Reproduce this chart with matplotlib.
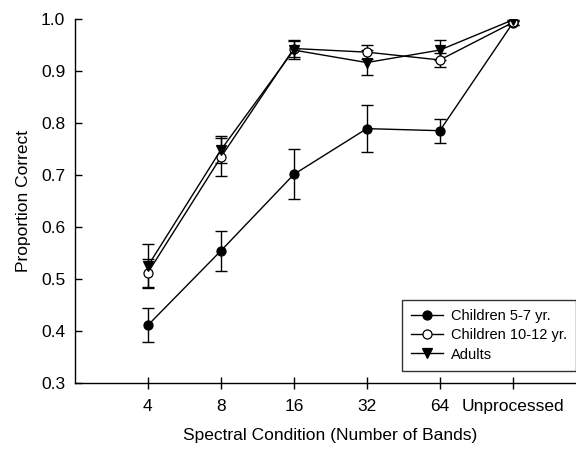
import matplotlib
matplotlib.use("Agg")
import matplotlib.pyplot as plt

plt.rcParams['font.family'] = ['Liberation Sans', 'DejaVu Sans']

# conditions (number of bands)
conditions = ["4", "8", "16", "32", "64", "Unprocessed"]

# mean proportion correct and error bar half-widths
kids_5_7 = [0.411, 0.554, 0.701, 0.789, 0.785, 0.992]
kids_5_7_err = [0.033, 0.038, 0.048, 0.045, 0.023, 0.004]

kids_10_12 = [0.512, 0.734, 0.943, 0.936, 0.921, 0.993]
kids_10_12_err = [0.027, 0.037, 0.016, 0.014, 0.014, 0.004]

adults = [0.525, 0.748, 0.940, 0.916, 0.940, 0.998]
adults_err = [0.043, 0.026, 0.018, 0.024, 0.020, 0.003]

xpos = list(range(1, len(conditions) + 1))

fig = plt.figure(figsize=(5.76, 4.49), dpi=100)
ax = fig.add_axes([0.130, 0.147, 0.887, 0.811])

series = [
    (kids_5_7, kids_5_7_err, "Children 5-7 yr.", "o", "black"),
    (kids_10_12, kids_10_12_err, "Children 10-12 yr.", "o", "white"),
    (adults, adults_err, "Adults", "v", "black"),
]

handles = []
for vals, errs, label, mk, fc in series:
    ax.errorbar(xpos, vals, yerr=errs, fmt="none", ecolor="black",
                elinewidth=1.0, capsize=4, capthick=1.0, zorder=2)
    h, = ax.plot(xpos, vals, color="black", lw=1.0, marker=mk, ms=6.5,
                 mfc=fc, mec="black", mew=0.9, label=label, zorder=3)
    handles.append(h)

ax.set_xlim(0, 7)
ax.set_ylim(0.3, 1.0)
ax.set_xticks(xpos)
ax.set_xticklabels(conditions)
ax.set_yticks([0.3, 0.4, 0.5, 0.6, 0.7, 0.8, 0.9, 1.0])
ax.set_yticklabels(["0.3", "0.4", "0.5", "0.6", "0.7", "0.8", "0.9", "1.0"])

ax.spines['top'].set_visible(False)
ax.spines['right'].set_visible(False)
ax.spines['left'].set_linewidth(1.0)
ax.spines['bottom'].set_linewidth(1.0)
ax.tick_params(axis='y', direction='in', length=5, width=1.0, labelsize=12.5, pad=7)
ax.tick_params(axis='x', direction='inout', length=9, width=1.0, labelsize=12.5, pad=7)

ax.set_xlabel("Spectral Condition (Number of Bands)", fontsize=12.5, labelpad=10)
ax.set_ylabel("Proportion Correct", fontsize=12.5, labelpad=7)

leg = ax.legend(handles=handles, loc="lower right",
                bbox_to_anchor=(1.0, 1 - 371 / 449), bbox_transform=fig.transFigure,
                fontsize=10.5, frameon=True, fancybox=False, edgecolor="black",
                handlelength=2.2, handletextpad=0.5, borderpad=0.65,
                labelspacing=0.35, borderaxespad=0)
leg.get_frame().set_linewidth(1.0)

fig.savefig("out.png", dpi=100)
